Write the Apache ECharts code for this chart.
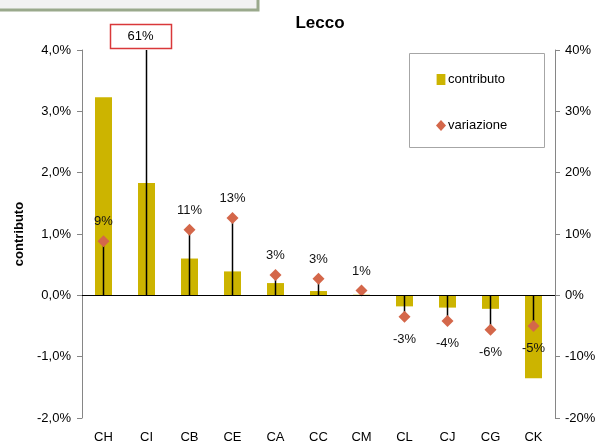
<!DOCTYPE html>
<html>
<head>
<meta charset="utf-8">
<script src="https://cdn.jsdelivr.net/npm/echarts@6/dist/echarts.min.js"></script>
<style>
html,body{margin:0;padding:0;background:#fff;}
#c{width:606px;height:448px;}
</style>
</head>
<body>
<div id="c"></div>
<script>
// Data (contributo in percentage points, variazione in %)
var categories = ['CH','CI','CB','CE','CA','CC','CM','CL','CJ','CG','CK'];
var contributo = [3.23, 1.83, 0.60, 0.39, 0.20, 0.07, 0.01, -0.18, -0.20, -0.22, -1.35];
var variazione = [8.8, 61, 10.7, 12.6, 3.3, 2.7, 0.8, -3.5, -4.2, -5.6, -5.0];
var variazioneLabels = ['9%','61%','11%','13%','3%','3%','1%','-3%','-4%','-6%','-5%'];
var leftTicks = {min: -2, max: 4, interval: 1};
var rightTicks = {min: -20, max: 40, interval: 10};

var FONT = 'Liberation Sans, Arial, sans-serif';
var chart = echarts.init(document.getElementById('c'), null, {renderer: 'canvas'});

var axisGray = '#868686';

var option = {
  backgroundColor: '#fff',
  animation: false,
  textStyle: {fontFamily: FONT},
  title: {
    text: 'Lecco',
    left: 315, top: 10, textAlign: 'center',
    textStyle: {fontFamily: FONT, fontSize: 17, fontWeight: 'bold', color: '#000'}
  },
  graphic: [
    {type: 'rect', shape: {x: -5, y: -5, width: 263, height: 15},
     style: {fill: '#f2f2f2', stroke: '#9aa98c', lineWidth: 3}, z: 10},
    {type: 'rect', shape: {x: 409.5, y: 53.5, width: 135, height: 94},
     style: {fill: '#fff', stroke: '#a6a6a6', lineWidth: 1}, z: 0}
  ],
  legend: {
    orient: 'vertical',
    left: 431, top: 68,
    itemGap: 33,
    itemWidth: 10, itemHeight: 11,
    textStyle: {fontFamily: FONT, fontSize: 13, color: '#000', padding: [0,0,0,-3]},
    data: [
      {name: 'contributo', icon: 'path://M0,0H8V10H0Z'},
      {name: 'variazione', icon: 'diamond'}
    ]
  },
  grid: {left: 82, right: 51, top: 50, bottom: 30, containLabel: false},
  xAxis: {
    type: 'category',
    data: categories,
    axisLine: {show: false},
    axisTick: {show: false},
    axisLabel: {fontFamily: FONT, fontSize: 13, color: '#000', margin: 13}
  },
  yAxis: [
    {
      type: 'value', min: leftTicks.min, max: leftTicks.max, interval: leftTicks.interval,
      name: 'contributo', nameLocation: 'middle', nameRotate: 90, nameGap: 56,
      nameTextStyle: {fontFamily: FONT, fontSize: 13, fontWeight: 'bold', color: '#000'},
      axisLine: {show: true, lineStyle: {color: axisGray}},
      axisTick: {show: true, length: 5, lineStyle: {color: axisGray}},
      splitLine: {show: false},
      axisLabel: {fontFamily: FONT, fontSize: 13, color: '#000', margin: 11,
        formatter: function (v) { return v.toFixed(1).replace('.', ',') + '%'; }}
    },
    {
      type: 'value', min: rightTicks.min, max: rightTicks.max, interval: rightTicks.interval,
      position: 'right',
      axisLine: {show: true, lineStyle: {color: axisGray}},
      axisTick: {show: true, length: 5, lineStyle: {color: axisGray}},
      splitLine: {show: false},
      axisLabel: {fontFamily: FONT, fontSize: 13, color: '#000', margin: 10,
        formatter: function (v) { return v + '%'; }}
    }
  ],
  series: [
    {
      name: 'contributo', type: 'bar', yAxisIndex: 0,
      data: contributo, barWidth: 17,
      itemStyle: {color: '#ccb400'},
      z: 2,
      markLine: {
        silent: true, symbol: 'none',
        label: {show: false},
        lineStyle: {color: '#000', width: 1, type: 'solid'},
        data: [{yAxis: 0}]
      }
    },
    {
      name: 'stems', type: 'custom', yAxisIndex: 1, z: 3,
      clip: false,
      data: variazione.map(function (v, i) { return [i, v]; }),
      renderItem: function (params, api) {
        var i = api.value(0), v = api.value(1);
        var top = Math.min(v, rightTicks.max);
        var p0 = api.coord([i, 0]);
        var p1 = api.coord([i, top]);
        var children = [{
          type: 'line',
          shape: {x1: p0[0], y1: p0[1], x2: p1[0], y2: p1[1]},
          style: {stroke: '#000', lineWidth: 1.5}
        }];
        if (v > rightTicks.max) {
          var w = 61, h = 24;
          var cx = p1[0] - 6;
          children.push({
            type: 'rect',
            shape: {x: cx - w / 2 + 0.5, y: p1[1] - h - 1.5, width: w, height: h},
            style: {fill: '#fff', stroke: '#d9383a', lineWidth: 1.5}
          });
          children.push({
            type: 'text',
            style: {x: cx, y: p1[1] - h / 2 - 1.5, text: variazioneLabels[i],
              align: 'center', verticalAlign: 'middle',
              font: '13px ' + FONT, fill: '#000'}
          });
        }
        return {type: 'group', children: children};
      }
    },
    {
      name: 'variazione', type: 'scatter', yAxisIndex: 1, z: 4,
      symbol: 'diamond', symbolSize: 12,
      itemStyle: {color: '#d4674a', opacity: 1},
      clip: true,
      data: variazione.map(function (v, i) {
        return {
          value: [i, v],
          label: {
            show: v <= rightTicks.max,
            formatter: variazioneLabels[i],
            position: v >= 0 ? 'top' : 'bottom',
            distance: v >= 0 ? 7 : 10
          }
        };
      }),
      label: {fontFamily: FONT, fontSize: 13, color: '#111'}
    }
  ]
};
chart.setOption(option);
</script>
</body>
</html>
